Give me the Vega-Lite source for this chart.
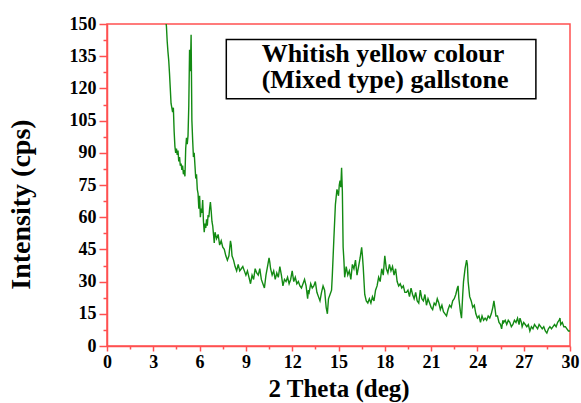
{
  "$schema": "https://vega.github.io/schema/vega-lite/v6.json",
  "width": 463,
  "height": 322,
  "autosize": "none",
  "padding": {"left": 107, "top": 24, "right": 11, "bottom": 57},
  "background": "white",
  "config": {
    "view": {"stroke": "#ff5050", "strokeWidth": 1.5},
    "axis": {
      "domainColor": "#ff5050",
      "domainWidth": 1.5,
      "tickColor": "#ff5050",
      "tickWidth": 1.5,
      "grid": false,
      "labelFont": "Liberation Serif",
      "labelFontWeight": "bold",
      "labelFontSize": 18,
      "labelColor": "black",
      "labelOverlap": false,
      "labelFlush": false,
      "titleFont": "Liberation Serif",
      "titleFontWeight": "bold",
      "titleColor": "black"
    },
    "axisX": {"labelPadding": 2, "titlePadding": 5, "titleFontSize": 25},
    "axisY": {"labelPadding": 3, "titleFontSize": 28}
  },
  "datasets": {
    "xrd": [
      {"t": 3.5, "i": 175}, {"t": 3.6, "i": 168}, {"t": 3.7, "i": 158}, {"t": 3.8, "i": 152}, {"t": 3.85, "i": 149},
      {"t": 3.9, "i": 142}, {"t": 3.95, "i": 137}, {"t": 4.0, "i": 133}, {"t": 4.05, "i": 127}, {"t": 4.1, "i": 120},
      {"t": 4.15, "i": 113}, {"t": 4.2, "i": 111}, {"t": 4.25, "i": 109}, {"t": 4.3, "i": 111}, {"t": 4.35, "i": 100},
      {"t": 4.4, "i": 93}, {"t": 4.45, "i": 90}, {"t": 4.5, "i": 92}, {"t": 4.55, "i": 89}, {"t": 4.6, "i": 91},
      {"t": 4.65, "i": 86}, {"t": 4.7, "i": 88}, {"t": 4.75, "i": 84}, {"t": 4.8, "i": 85}, {"t": 4.85, "i": 82},
      {"t": 4.9, "i": 84}, {"t": 4.95, "i": 80}, {"t": 5.0, "i": 82}, {"t": 5.05, "i": 79}, {"t": 5.1, "i": 92},
      {"t": 5.15, "i": 97}, {"t": 5.2, "i": 94}, {"t": 5.25, "i": 98}, {"t": 5.3, "i": 112}, {"t": 5.35, "i": 138},
      {"t": 5.4, "i": 128}, {"t": 5.45, "i": 145}, {"t": 5.5, "i": 105}, {"t": 5.55, "i": 96}, {"t": 5.6, "i": 88},
      {"t": 5.65, "i": 90}, {"t": 5.7, "i": 84}, {"t": 5.75, "i": 78}, {"t": 5.8, "i": 80}, {"t": 5.85, "i": 73},
      {"t": 5.9, "i": 71}, {"t": 5.95, "i": 64}, {"t": 6.0, "i": 70}, {"t": 6.05, "i": 60}, {"t": 6.1, "i": 64},
      {"t": 6.15, "i": 62}, {"t": 6.2, "i": 68}, {"t": 6.25, "i": 58}, {"t": 6.3, "i": 53}, {"t": 6.35, "i": 57},
      {"t": 6.4, "i": 55}, {"t": 6.45, "i": 59}, {"t": 6.5, "i": 56}, {"t": 6.55, "i": 61}, {"t": 6.6, "i": 60},
      {"t": 6.65, "i": 64}, {"t": 6.7, "i": 67}, {"t": 6.75, "i": 63}, {"t": 6.8, "i": 58}, {"t": 6.85, "i": 56},
      {"t": 6.9, "i": 52}, {"t": 6.95, "i": 48}, {"t": 7.0, "i": 53}, {"t": 7.1, "i": 50}, {"t": 7.2, "i": 52},
      {"t": 7.3, "i": 47}, {"t": 7.4, "i": 49}, {"t": 7.5, "i": 46}, {"t": 7.6, "i": 45}, {"t": 7.7, "i": 42},
      {"t": 7.8, "i": 40}, {"t": 7.9, "i": 42}, {"t": 8.0, "i": 49}, {"t": 8.05, "i": 47}, {"t": 8.1, "i": 42},
      {"t": 8.2, "i": 40}, {"t": 8.3, "i": 37}, {"t": 8.4, "i": 35}, {"t": 8.5, "i": 38}, {"t": 8.6, "i": 35},
      {"t": 8.7, "i": 36}, {"t": 8.8, "i": 37}, {"t": 8.9, "i": 35}, {"t": 9.0, "i": 33}, {"t": 9.1, "i": 35},
      {"t": 9.2, "i": 32}, {"t": 9.3, "i": 29}, {"t": 9.4, "i": 33}, {"t": 9.5, "i": 31}, {"t": 9.6, "i": 36},
      {"t": 9.7, "i": 34}, {"t": 9.8, "i": 33}, {"t": 9.9, "i": 36}, {"t": 10.0, "i": 31}, {"t": 10.1, "i": 29},
      {"t": 10.2, "i": 27}, {"t": 10.3, "i": 33}, {"t": 10.4, "i": 37}, {"t": 10.5, "i": 41}, {"t": 10.55, "i": 39},
      {"t": 10.6, "i": 36}, {"t": 10.7, "i": 33}, {"t": 10.8, "i": 35}, {"t": 10.9, "i": 31}, {"t": 11.0, "i": 34},
      {"t": 11.1, "i": 32}, {"t": 11.2, "i": 37}, {"t": 11.3, "i": 33}, {"t": 11.4, "i": 28}, {"t": 11.5, "i": 31},
      {"t": 11.6, "i": 30}, {"t": 11.7, "i": 32}, {"t": 11.8, "i": 29}, {"t": 11.9, "i": 31}, {"t": 12.0, "i": 35},
      {"t": 12.1, "i": 30}, {"t": 12.2, "i": 32}, {"t": 12.3, "i": 29}, {"t": 12.4, "i": 30}, {"t": 12.5, "i": 28},
      {"t": 12.6, "i": 27}, {"t": 12.7, "i": 29}, {"t": 12.8, "i": 31}, {"t": 12.9, "i": 28}, {"t": 13.0, "i": 22},
      {"t": 13.05, "i": 26}, {"t": 13.1, "i": 25}, {"t": 13.2, "i": 29}, {"t": 13.3, "i": 27}, {"t": 13.4, "i": 28},
      {"t": 13.5, "i": 30}, {"t": 13.6, "i": 25}, {"t": 13.7, "i": 23}, {"t": 13.8, "i": 21}, {"t": 13.9, "i": 25},
      {"t": 14.0, "i": 28}, {"t": 14.1, "i": 26}, {"t": 14.2, "i": 18}, {"t": 14.28, "i": 15}, {"t": 14.35, "i": 22},
      {"t": 14.45, "i": 24}, {"t": 14.55, "i": 26}, {"t": 14.6, "i": 33}, {"t": 14.7, "i": 50}, {"t": 14.8, "i": 66},
      {"t": 14.9, "i": 73}, {"t": 15.0, "i": 70}, {"t": 15.05, "i": 75}, {"t": 15.1, "i": 77}, {"t": 15.15, "i": 74},
      {"t": 15.2, "i": 83}, {"t": 15.25, "i": 72}, {"t": 15.3, "i": 46}, {"t": 15.35, "i": 40}, {"t": 15.4, "i": 32},
      {"t": 15.5, "i": 37}, {"t": 15.6, "i": 33}, {"t": 15.7, "i": 35}, {"t": 15.8, "i": 31}, {"t": 15.9, "i": 38},
      {"t": 16.0, "i": 36}, {"t": 16.1, "i": 40}, {"t": 16.2, "i": 33}, {"t": 16.3, "i": 37}, {"t": 16.4, "i": 41},
      {"t": 16.5, "i": 46}, {"t": 16.55, "i": 42}, {"t": 16.6, "i": 37}, {"t": 16.7, "i": 24}, {"t": 16.8, "i": 21},
      {"t": 16.9, "i": 20}, {"t": 17.0, "i": 22}, {"t": 17.1, "i": 20}, {"t": 17.2, "i": 23}, {"t": 17.3, "i": 21},
      {"t": 17.4, "i": 26}, {"t": 17.5, "i": 28}, {"t": 17.6, "i": 32}, {"t": 17.7, "i": 30}, {"t": 17.8, "i": 36},
      {"t": 17.9, "i": 33}, {"t": 18.0, "i": 42}, {"t": 18.1, "i": 36}, {"t": 18.2, "i": 34}, {"t": 18.3, "i": 38},
      {"t": 18.4, "i": 35}, {"t": 18.5, "i": 37}, {"t": 18.6, "i": 33}, {"t": 18.7, "i": 36}, {"t": 18.8, "i": 30},
      {"t": 18.9, "i": 28}, {"t": 19.0, "i": 29}, {"t": 19.1, "i": 27}, {"t": 19.2, "i": 28}, {"t": 19.3, "i": 25},
      {"t": 19.4, "i": 25}, {"t": 19.5, "i": 26}, {"t": 19.6, "i": 23}, {"t": 19.7, "i": 27}, {"t": 19.8, "i": 24},
      {"t": 19.9, "i": 22}, {"t": 20.0, "i": 25}, {"t": 20.1, "i": 21}, {"t": 20.2, "i": 20}, {"t": 20.3, "i": 26},
      {"t": 20.4, "i": 22}, {"t": 20.5, "i": 21}, {"t": 20.6, "i": 24}, {"t": 20.7, "i": 19}, {"t": 20.8, "i": 22},
      {"t": 20.9, "i": 20}, {"t": 21.0, "i": 18}, {"t": 21.1, "i": 17}, {"t": 21.2, "i": 20}, {"t": 21.3, "i": 19},
      {"t": 21.4, "i": 22}, {"t": 21.5, "i": 20}, {"t": 21.6, "i": 17}, {"t": 21.7, "i": 19}, {"t": 21.8, "i": 16},
      {"t": 21.9, "i": 15}, {"t": 22.0, "i": 14}, {"t": 22.1, "i": 17}, {"t": 22.2, "i": 19}, {"t": 22.3, "i": 18},
      {"t": 22.4, "i": 21}, {"t": 22.5, "i": 22}, {"t": 22.6, "i": 24}, {"t": 22.7, "i": 27}, {"t": 22.75, "i": 28},
      {"t": 22.8, "i": 22}, {"t": 22.9, "i": 16}, {"t": 22.97, "i": 13}, {"t": 23.05, "i": 24}, {"t": 23.1, "i": 30},
      {"t": 23.2, "i": 36}, {"t": 23.3, "i": 40}, {"t": 23.35, "i": 38}, {"t": 23.4, "i": 30}, {"t": 23.5, "i": 23},
      {"t": 23.6, "i": 21}, {"t": 23.7, "i": 18}, {"t": 23.8, "i": 19}, {"t": 23.9, "i": 15}, {"t": 24.0, "i": 13},
      {"t": 24.1, "i": 14}, {"t": 24.2, "i": 11}, {"t": 24.3, "i": 14}, {"t": 24.4, "i": 12}, {"t": 24.5, "i": 13},
      {"t": 24.6, "i": 12}, {"t": 24.7, "i": 14}, {"t": 24.8, "i": 13}, {"t": 24.9, "i": 15}, {"t": 25.0, "i": 18},
      {"t": 25.07, "i": 21}, {"t": 25.15, "i": 17}, {"t": 25.2, "i": 14}, {"t": 25.3, "i": 14}, {"t": 25.4, "i": 11},
      {"t": 25.5, "i": 10}, {"t": 25.57, "i": 8}, {"t": 25.65, "i": 12}, {"t": 25.7, "i": 11}, {"t": 25.8, "i": 12},
      {"t": 25.9, "i": 10}, {"t": 26.0, "i": 12}, {"t": 26.1, "i": 11}, {"t": 26.2, "i": 9}, {"t": 26.3, "i": 10},
      {"t": 26.4, "i": 12}, {"t": 26.5, "i": 11}, {"t": 26.6, "i": 13}, {"t": 26.7, "i": 10}, {"t": 26.76, "i": 13},
      {"t": 26.85, "i": 11}, {"t": 26.9, "i": 9}, {"t": 27.0, "i": 11}, {"t": 27.1, "i": 10}, {"t": 27.2, "i": 9},
      {"t": 27.3, "i": 10}, {"t": 27.4, "i": 7}, {"t": 27.5, "i": 9}, {"t": 27.6, "i": 8}, {"t": 27.7, "i": 10},
      {"t": 27.8, "i": 9}, {"t": 27.9, "i": 8}, {"t": 28.0, "i": 10}, {"t": 28.1, "i": 9}, {"t": 28.2, "i": 8},
      {"t": 28.3, "i": 9}, {"t": 28.4, "i": 7}, {"t": 28.5, "i": 6}, {"t": 28.6, "i": 8}, {"t": 28.7, "i": 9},
      {"t": 28.8, "i": 8}, {"t": 28.9, "i": 9}, {"t": 29.0, "i": 10}, {"t": 29.1, "i": 9}, {"t": 29.2, "i": 11},
      {"t": 29.3, "i": 12}, {"t": 29.35, "i": 13}, {"t": 29.4, "i": 10}, {"t": 29.5, "i": 11}, {"t": 29.6, "i": 9},
      {"t": 29.7, "i": 9}, {"t": 29.8, "i": 8}, {"t": 29.9, "i": 7}, {"t": 30.0, "i": 7}
    ],
    "box": [{"x1": 7.73, "x2": 27.79, "y1": 115.2, "y2": 142.8}],
    "labels": [
      {"x": 10.02, "y": 132.5, "label": "Whitish yellow colour"},
      {"x": 10.02, "y": 120.2, "label": "(Mixed type) gallstone"}
    ]
  },
  "resolve": {"axis": {"x": "independent", "y": "independent"}},
  "layer": [
    {
      "data": {"name": "xrd"},
      "mark": {"type": "line", "color": "#138a13", "strokeWidth": 1.4, "clip": true, "interpolate": "linear"},
      "encoding": {
        "x": {
          "field": "t", "type": "quantitative", "title": "2 Theta (deg)",
          "scale": {"domain": [0, 30], "nice": false, "zero": false},
          "axis": {
            "orient": "bottom",
            "values": [0, 3, 6, 9, 12, 15, 18, 21, 24, 27, 30],
            "tickSize": 5
          }
        },
        "y": {
          "field": "i", "type": "quantitative", "title": "Intensity (cps)",
          "scale": {"domain": [0, 150], "nice": false, "zero": true},
          "axis": {
            "orient": "left",
            "values": [0, 15, 30, 45, 60, 75, 90, 105, 120, 135, 150],
            "tickSize": 8,
            "titleX": -72,
            "titleY": 180,
            "titleBaseline": "bottom",
            "titleAlign": "center",
            "titleAngle": -90
          }
        }
      }
    },
    {
      "data": {"name": "box"},
      "mark": {"type": "rect", "fill": "white", "stroke": "black", "strokeWidth": 1.5},
      "encoding": {
        "x": {"field": "x1", "type": "quantitative", "axis": {"orient": "bottom", "title": null, "labels": false, "domain": false, "tickSize": 3, "values": [1.5, 4.5, 7.5, 10.5, 13.5, 16.5, 19.5, 22.5, 25.5, 28.5]}},
        "x2": {"field": "x2"},
        "y": {"field": "y1", "type": "quantitative", "axis": {"orient": "left", "title": null, "labels": false, "domain": false, "tickSize": 4, "values": [7.5, 22.5, 37.5, 52.5, 67.5, 82.5, 97.5, 112.5, 127.5, 142.5]}},
        "y2": {"field": "y2"}
      }
    },
    {
      "data": {"name": "labels"},
      "mark": {"type": "text", "font": "Liberation Serif", "fontWeight": "bold", "fontSize": 26, "align": "left", "baseline": "alphabetic", "color": "black"},
      "encoding": {
        "x": {"field": "x", "type": "quantitative", "axis": null},
        "y": {"field": "y", "type": "quantitative", "axis": null},
        "text": {"field": "label"}
      }
    }
  ]
}
